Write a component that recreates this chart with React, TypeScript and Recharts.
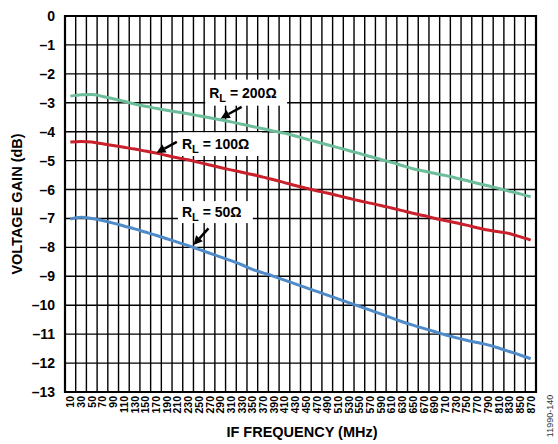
import React from 'react';
import { LineChart, Line, XAxis, YAxis, CartesianGrid, ReferenceArea, ReferenceLine } from 'recharts';

const freqs = [10, 30, 50, 70, 90, 110, 130, 150, 170, 190, 210, 230, 250, 270, 290, 310, 330, 350, 370, 390, 410, 430, 450, 470, 490, 510, 530, 550, 570, 590, 610, 630, 650, 670, 690, 710, 730, 750, 770, 790, 810, 830, 850, 870];
const gain200 = [-2.77, -2.72, -2.71, -2.78, -2.86, -2.95, -3.04, -3.12, -3.19, -3.26, -3.32, -3.38, -3.45, -3.52, -3.59, -3.66, -3.74, -3.82, -3.90, -3.98, -4.05, -4.15, -4.25, -4.35, -4.45, -4.55, -4.65, -4.75, -4.86, -4.96, -5.06, -5.17, -5.28, -5.36, -5.44, -5.51, -5.60, -5.69, -5.78, -5.87, -5.96, -6.06, -6.15, -6.25];
const gain100 = [-4.36, -4.34, -4.36, -4.42, -4.48, -4.54, -4.60, -4.67, -4.74, -4.82, -4.90, -4.97, -5.06, -5.15, -5.24, -5.32, -5.40, -5.48, -5.57, -5.66, -5.76, -5.86, -5.95, -6.04, -6.12, -6.21, -6.30, -6.39, -6.47, -6.55, -6.64, -6.73, -6.82, -6.90, -6.99, -7.07, -7.15, -7.23, -7.32, -7.40, -7.46, -7.52, -7.63, -7.75];
const gain50 = [-7.02, -6.96, -7.00, -7.07, -7.16, -7.26, -7.36, -7.47, -7.58, -7.70, -7.82, -7.94, -8.07, -8.20, -8.33, -8.46, -8.60, -8.76, -8.88, -9.00, -9.13, -9.26, -9.39, -9.52, -9.65, -9.78, -9.91, -10.04, -10.17, -10.30, -10.44, -10.57, -10.69, -10.80, -10.91, -11.02, -11.12, -11.21, -11.29, -11.37, -11.48, -11.60, -11.72, -11.85];
const yTicks = [-13, -12, -11, -10, -9, -8, -7, -6, -5, -4, -3, -2, -1, 0];
const gridFreqs = [0, 20, 40, 60, 80, 100, 120, 140, 160, 180, 200, 220, 240, 260, 280, 300, 320, 340, 360, 380, 400, 420, 440, 460, 480, 500, 520, 540, 560, 580, 600, 620, 640, 660, 680, 700, 720, 740, 760, 780, 800, 820, 840, 860, 880];

const annotations = [
  { value: '200Ω', x1: 262, x2: 415, y1: -2.2, y2: -3.1, ax1: 330, ay1: -3.14, ax2: 291, ay2: -3.54 },
  { value: '100Ω', x1: 211, x2: 368, y1: -4.02, y2: -4.84, ax1: 209, ay1: -4.35, ax2: 171, ay2: -4.73 },
  { value: '50Ω', x1: 211, x2: 351, y1: -6.4, y2: -7.16, ax1: 268, ay1: -7.34, ax2: 240, ay2: -7.92 },
];

const data = freqs.map((f, i) => ({ f, g200: gain200[i], g100: gain100[i], g50: gain50[i] }));

const FONT = 'Arial, "Liberation Sans", Helvetica, sans-serif';

const XTick = (props: any) => {
  const { x, y, payload } = props;
  return (
    <text
      x={x}
      y={y + 2}
      transform={`rotate(-90, ${x}, ${y + 2})`}
      textAnchor="end"
      dominantBaseline="central"
      fontFamily={FONT}
      fontWeight="bold"
      fontSize={10.5}
      fill="#000"
    >
      {payload.value}
    </text>
  );
};

const YTick = (props: any) => {
  const { x, y, payload } = props;
  const v = payload.value;
  const s = v < 0 ? '\u2013' + String(-v) : String(v);
  return (
    <text x={x} y={y} textAnchor="end" dominantBaseline="central" fontFamily={FONT} fontWeight="bold" fontSize={14} fill="#000">
      {s}
    </text>
  );
};

const makeBox = (value: string) => (p: any) => {
  const { x, y, width, height } = p;
  return (
    <g>
      <rect x={x} y={y} width={width} height={height} fill="#fff" stroke="none" />
      <text x={x + 4} y={y + height / 2 + 5} fontFamily={FONT} fontWeight="bold" fontSize={14} fill="#000">
        R
        <tspan fontSize={11} dy={4}>L</tspan>
        <tspan dy={-4}>{' = ' + value}</tspan>
      </text>
    </g>
  );
};

const Arrow = (p: any) => {
  const { x1, y1, x2, y2 } = p;
  const dx = x2 - x1;
  const dy = y2 - y1;
  const len = Math.sqrt(dx * dx + dy * dy) || 1;
  const ux = dx / len;
  const uy = dy / len;
  const hl = 9;
  const hw = 4.5;
  const bx = x2 - ux * hl;
  const by = y2 - uy * hl;
  const pts = `${x2},${y2} ${bx - uy * hw},${by + ux * hw} ${bx + uy * hw},${by - ux * hw}`;
  return (
    <g>
      <line x1={x1} y1={y1} x2={bx} y2={by} stroke="#000" strokeWidth={2.5} />
      <polygon points={pts} fill="#000" />
    </g>
  );
};

export default function App() {
  return (
    <div style={{ position: 'absolute', left: 0, top: 0, width: 558, height: 444, background: '#fff' }}>
      <LineChart width={558} height={444} data={data} margin={{ top: 16, right: 22, left: 8, bottom: 0 }}>
        <CartesianGrid
          stroke="#000"
          strokeWidth={1.4}
          verticalValues={gridFreqs}
          horizontalValues={yTicks}
        />
        <XAxis
          dataKey="f"
          type="number"
          domain={[0, 880]}
          ticks={freqs}
          interval={0}
          tickSize={0}
          tickMargin={2}
          height={52}
          axisLine={false}
          tickLine={false}
          tick={<XTick />}
        />
        <YAxis
          type="number"
          domain={[-13, 0]}
          ticks={yTicks}
          interval={0}
          width={57}
          tickSize={0}
          tickMargin={10}
          axisLine={false}
          tickLine={false}
          tick={<YTick />}
        />
        {annotations.map((a) => (
          <ReferenceArea key={'box' + a.value} x1={a.x1} x2={a.x2} y1={a.y1} y2={a.y2} shape={makeBox(a.value)} ifOverflow="visible" />
        ))}
        <ReferenceArea x1={0} x2={880} y1={-13} y2={0} fill="none" fillOpacity={0} stroke="#000" strokeWidth={2.2} />
        <Line type="monotone" dataKey="g200" stroke="#6cbd99" strokeWidth={3} dot={false} isAnimationActive={false} />
        <Line type="monotone" dataKey="g100" stroke="#c9202c" strokeWidth={3} dot={false} isAnimationActive={false} />
        <Line type="monotone" dataKey="g50" stroke="#4f8bc9" strokeWidth={3} dot={false} isAnimationActive={false} />
        {annotations.map((a) => (
          <ReferenceLine
            key={'arr' + a.value}
            segment={[{ x: a.ax1, y: a.ay1 }, { x: a.ax2, y: a.ay2 }]}
            shape={Arrow}
            ifOverflow="visible"
          />
        ))}
      </LineChart>
      <svg width={558} height={444} style={{ position: 'absolute', left: 0, top: 0, pointerEvents: 'none' }}>
        <text x={17} y={204} transform="rotate(-90, 17, 204)" textAnchor="middle" dominantBaseline="central" fontFamily={FONT} fontWeight="bold" fontSize={14.5} fill="#000">
          VOLTAGE GAIN (dB)
        </text>
        <text x={302} y={432} textAnchor="middle" dominantBaseline="central" fontFamily={FONT} fontWeight="bold" fontSize={14.5} fill="#000">
          IF FREQUENCY (MHz)
        </text>
        <text x={550} y={416} transform="rotate(-90, 550, 416)" textAnchor="middle" dominantBaseline="central" fontFamily={FONT} fontSize={9} fill="#333">
          11990-140
        </text>
      </svg>
    </div>
  );
}
